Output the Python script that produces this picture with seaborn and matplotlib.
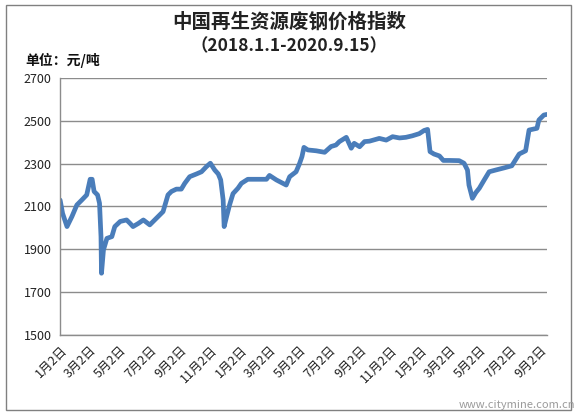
import matplotlib

matplotlib.use("agg")
import matplotlib.pyplot as plt
import pandas as pd
import seaborn as sns
from matplotlib.patches import Rectangle

# Scrap steel price index
dates = [
    "2018-01-01", "2018-01-06", "2018-01-15", "2018-01-25", "2018-02-04",
    "2018-02-14", "2018-02-24", "2018-03-03", "2018-03-07", "2018-03-11",
    "2018-03-18", "2018-03-22", "2018-03-25", "2018-03-26", "2018-03-30",
    "2018-04-06", "2018-04-16", "2018-04-22", "2018-05-03", "2018-05-16",
    "2018-05-23", "2018-05-29", "2018-06-09", "2018-06-19", "2018-07-02",
    "2018-07-12", "2018-07-29", "2018-08-08", "2018-08-15", "2018-08-25",
    "2018-09-04", "2018-09-11", "2018-09-21", "2018-10-05", "2018-10-15",
    "2018-10-25", "2018-11-02", "2018-11-11", "2018-11-18", "2018-11-23",
    "2018-11-28", "2018-11-30", "2018-12-05", "2018-12-11", "2018-12-18",
    "2018-12-28", "2019-01-04", "2019-01-17", "2019-01-27", "2019-02-24",
    "2019-03-02", "2019-03-16", "2019-04-05", "2019-04-12", "2019-04-25",
    "2019-05-02", "2019-05-07", "2019-05-11", "2019-05-19", "2019-06-05",
    "2019-06-22", "2019-07-05", "2019-07-15", "2019-07-22", "2019-08-05",
    "2019-08-15", "2019-08-21", "2019-09-01", "2019-09-11", "2019-09-21",
    "2019-10-11", "2019-10-25", "2019-11-07", "2019-11-21", "2019-12-04",
    "2019-12-17", "2019-12-31", "2020-01-10", "2020-01-17", "2020-01-22",
    "2020-01-30", "2020-02-10", "2020-02-18", "2020-03-01", "2020-03-21",
    "2020-03-31", "2020-04-07", "2020-04-10", "2020-04-17", "2020-04-24",
    "2020-05-01", "2020-05-11", "2020-05-21", "2020-06-03", "2020-06-20",
    "2020-07-06", "2020-07-21", "2020-08-03", "2020-08-10", "2020-08-26",
    "2020-08-30", "2020-09-09", "2020-09-15",
]
prices = [
    2130, 2068, 2006, 2053, 2107,
    2130, 2154, 2227, 2227, 2170,
    2154, 2115, 1959, 1788, 1897,
    1951, 1959, 2006, 2030, 2037,
    2021, 2006, 2021, 2037, 2014,
    2037, 2076, 2154, 2170, 2181,
    2181, 2208, 2239, 2252, 2262,
    2286, 2302, 2270, 2252, 2224,
    2130, 2006, 2053, 2107, 2160,
    2185, 2208, 2227, 2227, 2227,
    2245, 2224, 2200, 2239, 2262,
    2300, 2333, 2376, 2364, 2360,
    2353, 2380, 2387, 2403, 2423,
    2372, 2395, 2379, 2403, 2405,
    2418, 2410, 2426, 2420, 2423,
    2430, 2440, 2455, 2460, 2356,
    2345, 2336, 2315, 2315, 2314,
    2302, 2270, 2200, 2138, 2165,
    2185, 2224, 2262, 2270, 2280,
    2290, 2345, 2360, 2457, 2465,
    2504, 2527, 2530,
]

tick_dates = [
    "2018-01-02", "2018-03-02", "2018-05-02", "2018-07-02", "2018-09-02",
    "2018-11-02", "2019-01-02", "2019-03-02", "2019-05-02", "2019-07-02",
    "2019-09-02", "2019-11-02", "2020-01-02", "2020-03-02", "2020-05-02",
    "2020-07-02", "2020-09-02",
]
tick_labels = [
    "1月2日", "3月2日", "5月2日", "7月2日", "9月2日", "11月2日",
    "1月2日", "3月2日", "5月2日", "7月2日", "9月2日", "11月2日",
    "1月2日", "3月2日", "5月2日", "7月2日", "9月2日",
]
y_ticks = [1500, 1700, 1900, 2100, 2300, 2500, 2700]

sns.set_style("white")
plt.rcParams["font.family"] = ["Noto Sans CJK SC", "DejaVu Sans"]

GRID = "#8c8c8c"
LINE = "#4A7DBA"

fig = plt.figure(figsize=(5.78, 4.15), dpi=100)
ax = fig.add_axes([0.104, 0.193, 0.842, 0.619])

df = pd.DataFrame({"date": pd.to_datetime(dates), "price": prices})
sns.lineplot(
    data=df, x="date", y="price", ax=ax,
    color=LINE, linewidth=3.4, solid_capstyle="round", solid_joinstyle="round",
)

ax.set_ylim(y_ticks[0], y_ticks[-1])
ax.set_yticks(y_ticks)
ax.set_xlim(df["date"].iloc[0], df["date"].iloc[-1])
ax.set_xticks(pd.to_datetime(tick_dates))
ax.set_xticklabels(tick_labels, rotation=45, ha="right", rotation_mode="anchor")
ax.set_xlabel("")
ax.set_ylabel("")
ax.grid(axis="y", color=GRID, linewidth=1)
ax.set_axisbelow(True)
ax.tick_params(length=0, labelsize=9, colors="#222222", pad=6)
for side in ("top", "right"):
    ax.spines[side].set_visible(False)
for side in ("left", "bottom"):
    ax.spines[side].set_color(GRID)
    ax.spines[side].set_linewidth(1)

# Titles and unit label
fig.text(0.5, 0.947, "中国再生资源废钢价格指数", ha="center", va="center",
         fontsize=14, fontweight="bold", color="#222222")
fig.text(0.5, 0.889, "（2018.1.1-2020.9.15）", ha="center", va="center",
         fontsize=12.5, fontweight="bold", color="#222222")
fig.text(0.043, 0.855, "单位：元/吨", ha="left", va="center",
         fontsize=10, fontweight="bold", color="#111111")

# Outer frame and watermark
fig.add_artist(Rectangle((0.0104, 0.012), 0.9775, 0.976, transform=fig.transFigure,
                         fill=False, edgecolor="#808080", linewidth=1))
fig.text(0.995, 0.024, "www.citymine.com.cn", ha="right", va="center",
         fontsize=8, color="#9a9a9a")

fig.savefig("out.png", dpi=100)
